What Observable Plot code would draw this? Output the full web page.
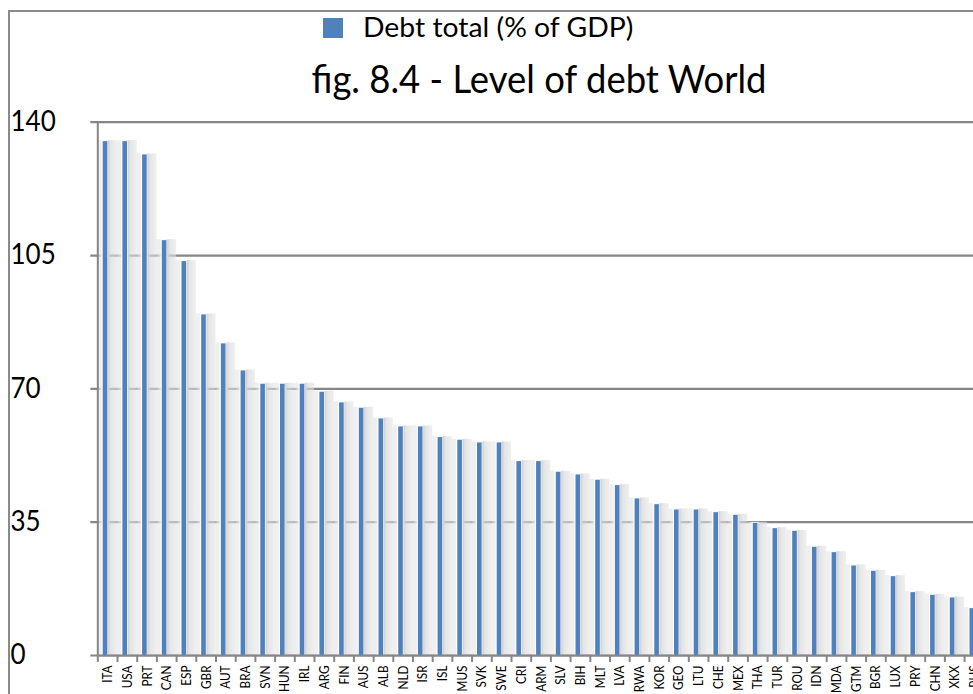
<!DOCTYPE html>
<html><head><meta charset="utf-8">
<script src="https://cdn.jsdelivr.net/npm/d3@7"></script>
<script src="https://cdn.jsdelivr.net/npm/@observablehq/plot@0.6"></script>
<style>
html,body{margin:0;padding:0;background:#fff;overflow:hidden;width:973px;height:694px;}
#wrap{position:relative;width:973px;height:694px;overflow:hidden;font-family:Lato,sans-serif;color:#000;}
#frame{position:absolute;left:8px;top:10px;width:1200px;height:1000px;border-left:2px solid #8a8a8a;border-top:2px solid #8a8a8a;z-index:2;pointer-events:none;}
#chart{position:absolute;left:0;top:0;z-index:1;}
#legendSw{position:absolute;left:323px;top:18px;width:20px;height:20px;background:#4f81bd;z-index:3;}
#legend{position:absolute;left:363px;top:11px;font-size:27px;line-height:32px;z-index:3;white-space:nowrap;transform-origin:0 50%;transform:scaleX(1.05);}
#title{position:absolute;left:539px;top:55px;font-size:38px;line-height:46px;z-index:3;white-space:nowrap;transform:translateX(-50%) scaleX(0.96);}
</style>
</head><body>
<div id="wrap">
  <div id="frame"></div>
  <div id="legendSw"></div>
  <div id="legend">Debt total (% of GDP)</div>
  <div id="title">fig. 8.4 - Level of debt World</div>
  <div id="chart"></div>
</div>
<script>
const categories = ["ITA","USA","PRT","CAN","ESP","GBR","AUT","BRA","SVN","HUN","IRL","ARG","FIN","AUS","ALB","NLD","ISR","ISL","MUS","SVK","SWE","CRI","ARM","SLV","BIH","MLT","LVA","RWA","KOR","GEO","LTU","CHE","MEX","THA","TUR","ROU","IDN","MDA","GTM","BGR","LUX","PRY","CHN","XKX","RUS"];
const debtTotal = [134.9,134.9,131.4,108.9,103.4,89.4,81.8,74.7,71.2,71.2,71.2,69.1,66.3,64.9,62.1,60.0,60.0,57.2,56.5,55.8,55.8,50.9,50.9,48.1,47.4,46.0,44.6,41.1,39.6,38.2,38.2,37.5,36.8,34.7,33.3,32.6,28.4,27.0,23.5,22.1,20.7,16.5,15.8,15.1,12.3];
const yTicks = [0,35,70,105,140];

const data = categories.map((c, i) => ({cat: c, value: debtTotal[i]}));
const x0 = 97.3, x1 = 983.8;
const band = (x1 - x0) / categories.length;
const grid = "#868686";

const chart = Plot.plot({
  width: 973, height: 694,
  marginLeft: x0, marginRight: 0, marginTop: 121.7, marginBottom: 39,
  style: {background: "transparent", fontFamily: "Lato, sans-serif", color: "#000", overflow: "hidden"},
  x: {domain: categories, range: [x0, x1], padding: 0},
  y: {domain: [0, 140], range: [655, 121.7]},
  marks: [
    Plot.ruleY(yTicks, {stroke: grid, strokeWidth: 2.2, insetLeft: -7}),
    Plot.barY(data, {x: "cat", y: "value", fill: "url(#shade)", insetLeft: 0, insetRight: 0, insetTop: -1}),
    Plot.barY(data, {x: "cat", y: "value", fill: "#4f81bd", insetLeft: 5.4, insetRight: band - 10}),
    Plot.ruleX([categories[0]], {dx: -band / 2, y1: 0, y2: 140, stroke: grid, strokeWidth: 2}),
    Plot.ruleY([0], {stroke: grid, strokeWidth: 2.2}),
    Plot.axisY({ticks: yTicks, tickSize: 0, tickPadding: 0, textAnchor: "start", dx: 10 - x0, fontSize: 28, label: null, tickFormat: d => String(d)}),
    Plot.axisX({tickSize: 7, tickFormat: () => "", dx: -band / 2, stroke: grid, strokeWidth: 2, label: null}),
    Plot.axisX({tickSize: 0, tickPadding: 10, tickRotate: -90, fontSize: 14, label: null})
  ]
});

const svg = d3.select(chart);
const defs = svg.insert("defs", ":first-child");
const lg = defs.append("linearGradient").attr("id", "shade")
  .attr("x1", "0").attr("x2", "1").attr("y1", "0").attr("y2", "0");
[
  [0.00, "#e2e2e2", 0.55],
  [0.19, "#ededed", 0.8],
  [0.24, "#ffffff", 1],
  [0.51, "#f4f4f4", 1],
  [0.57, "#d4d4d4", 1],
  [0.67, "#d9d9d9", 0.7],
  [1.00, "#e2e2e2", 0.55]
].forEach(([o, c, a]) => lg.append("stop").attr("offset", o).attr("stop-color", c).attr("stop-opacity", a));

// condense tick label glyphs horizontally (along the reading direction)
function condense(label, s) {
  svg.selectAll(`g[aria-label="${label}"] text`).each(function () {
    const t = this.getAttribute("transform") || "";
    this.setAttribute("transform", `${t} scale(${s},1)`);
  });
}
condense("y-axis tick label", 0.93);
condense("x-axis tick label", 0.84);

document.getElementById("chart").appendChild(chart);
</script>
</body></html>
